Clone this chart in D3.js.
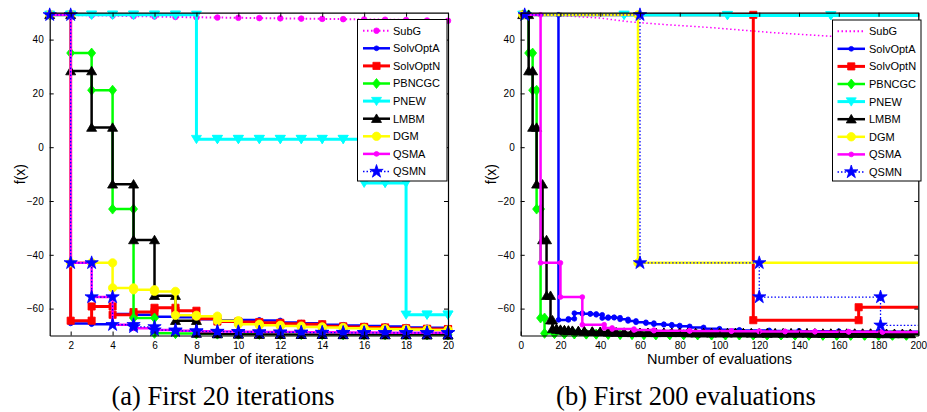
<!DOCTYPE html>
<html>
<head>
<meta charset="utf-8">
<script src="https://cdn.jsdelivr.net/npm/d3@7"></script>
<style>
  body { margin: 0; background: #fff; }
  text { font-family: "Liberation Sans", Arial, sans-serif; }
</style>
</head>
<body>
<div id="chart"></div>
<script>
// ---- data: panel (a), first 20 iterations ----
const iterations = [1, 2, 3, 4, 5, 6, 7, 8, 9, 10, 11, 12, 13, 14, 15, 16, 17, 18, 19, 20];
const subgIter     = [49.2, 49.1, 49.0, 48.9, 48.7, 48.6, 48.4, 48.3, 48.2, 48.1, 48.0, 47.9, 47.8, 47.7, 47.6, 47.5, 47.4, 47.3, 47.1, 47.0];
const solvOptAIter = [49.2, -65.5, -65.8, -62.0, -62.3, -63.0, -63.2, -64.0, -64.3, -64.2, -64.4, -65.2, -65.4, -66.0, -66.3, -66.5, -66.7, -67.0, -67.1, -67.2];
const solvOptNIter = [49.2, -64.5, -59.2, -62.3, -61.3, -59.7, -60.8, -63.8, -64.8, -65.0, -65.3, -65.6, -65.8, -66.6, -66.8, -67.0, -67.3, -67.5, -67.6, -67.7];
const pbncgcIter   = [49.2, 35.0, 21.2, -23.0, -63.5, -69.2, -69.3, -69.4, -69.5, -69.5, -69.6, -69.6, -69.6, -69.7, -69.7, -69.7, -69.7, -69.8, -69.8, -69.8];
const pnewIter     = [49.2, 49.2, 49.2, 49.2, 49.2, 49.2, 49.2, 3.0, 3.0, 3.0, 3.0, 3.0, 3.0, 3.0, 3.0, -13.3, -13.3, -62.3, -62.3, -62.3];
const lmbmIter     = [49.2, 28.3, 7.3, -13.8, -34.5, -55.2, -64.5, -69.3, -69.5, -69.6, -69.6, -69.7, -69.7, -69.7, -69.8, -69.8, -69.8, -69.8, -69.9, -69.9];
const dgmIter      = [49.2, -43.0, -43.0, -52.3, -53.0, -53.6, -62.5, -62.8, -64.5, -65.8, -66.2, -66.5, -66.8, -67.0, -67.3, -67.5, -67.7, -67.8, -68.0, -68.1];
const qsmaIter     = [49.2, -43.0, -55.7, -66.0, -67.3, -68.0, -68.2, -68.4, -68.5, -68.6, -68.7, -68.7, -68.8, -68.8, -68.9, -68.9, -69.0, -69.0, -69.0, -69.0];
const qsmnIter     = [49.2, -43.0, -55.7, -66.0, -66.8, -68.0, -68.3, -68.5, -68.6, -68.7, -68.8, -68.8, -68.9, -68.9, -69.0, -69.0, -69.0, -69.0, -69.0, -69.0];

// ---- data: panel (b), first 200 evaluations ----
const subgEvals = [1, 20, 40, 55, 65, 80, 95, 110, 125, 140, 155, 170, 185, 200];
const subgEvalF = [49.2, 48.9, 48.0, 46.6, 46.0, 45.2, 44.5, 43.6, 42.7, 42.0, 41.3, 40.6, 40.0, 39.4];
const solvOptAEvals = [1, 19, 24, 27, 31, 35, 38, 41, 44, 47, 50, 54, 58, 63, 67, 72, 76, 80, 85, 92, 100, 110, 125, 140, 160, 180];
const solvOptAEvalF = [49.2, -64.2, -63.8, -61.7, -61.9, -62.0, -62.3, -63.5, -63.2, -63.4, -64.0, -64.6, -65.1, -65.4, -65.8, -66.0, -66.3, -66.6, -67.0, -67.5, -67.9, -68.1, -68.3, -68.4, -68.5, -68.6];
const solvOptNEvals = [1, 117, 170];
const solvOptNEvalF = [49.2, -64.3, -59.5];
const pbncgcEvals = [1, 4, 6, 8, 10, 12, 17, 22, 27, 33, 38, 44, 50, 56, 62, 68, 75, 82, 89, 96, 103, 110, 117, 124, 131, 138, 145, 152, 159, 166, 173, 180, 187, 194];
const pbncgcEvalF = [49.2, 35.0, 21.2, -23.0, -63.5, -69.2, -69.3, -69.4, -69.4, -69.5, -69.5, -69.6, -69.6, -69.6, -69.7, -69.7, -69.7, -69.7,
  -69.8, -69.8, -69.8, -69.8, -69.8, -69.8, -69.8, -69.9, -69.9, -69.9, -69.9, -69.9, -69.9, -69.9, -69.9, -69.9];
const pnewEvals = [1, 52, 104, 156];
const pnewEvalF = [49.2, 49.1, 49.0, 49.0];
const lmbmEvals = [1, 4, 6, 8, 11, 13, 15, 16, 18, 20, 22, 24, 26, 29, 32, 36, 40, 44, 48, 52, 56, 60, 64, 68, 72, 76, 80,
  84, 88, 92, 96, 100, 104, 108, 112, 116, 120, 124, 128, 132, 136, 140, 144, 148, 152, 156, 160, 164, 168, 172, 176, 180, 184, 188, 192, 196];
const lmbmEvalF = [49.2, 28.3, 7.3, -13.8, -34.5, -55.2, -64.3, -67.5, -67.8, -68.0, -68.1, -68.2, -68.3, -68.4, -68.5, -68.6, -68.7, -68.8, -68.9,
  -69.0, -69.0, -69.0, -69.0, -69.0, -69.0, -69.0, -69.0,
  -69.1, -69.1, -69.1, -69.1, -69.1, -69.1, -69.1, -69.1,
  -69.2, -69.2, -69.2, -69.2, -69.2, -69.2, -69.2, -69.2,
  -69.3, -69.3, -69.3, -69.3, -69.3, -69.3, -69.3, -69.3,
  -69.4, -69.4, -69.4, -69.4, -69.4];
const dgmEvals = [1, 59];
const dgmEvalF = [49.2, -43.0];
const qsmaEvals = [1, 10, 20, 31, 42, 46, 57, 67, 85, 106, 120, 133, 148, 165, 182];
const qsmaEvalF = [49.2, -43.0, -55.7, -66.0, -67.2, -67.6, -68.0, -68.2, -68.3, -68.4, -68.5, -68.5, -68.6, -68.6, -68.7];
const qsmnEvals = [2, 60, 120, 181];
const qsmnEvalF = [49.2, -43.0, -55.7, -66.2];

// ---- tick labels ----
const yTickValues = [-60, -40, -20, 0, 20, 40];
const iterTicks = [2, 4, 6, 8, 10, 12, 14, 16, 18, 20];
const evalTicks = [0, 20, 40, 60, 80, 100, 120, 140, 160, 180, 200];
const seriesNames = ["SubG", "SolvOptA", "SolvOptN", "PBNCGC", "PNEW", "LMBM", "DGM", "QSMA", "QSMN"];

// styles for each method (MATLAB-ish)
const styles = {
  SubG:     { color: "#ff00ff", width: 2,   dash: "1.5,2.5", marker: "dot", size: 2.8, linear: true },
  SolvOptA: { color: "#0000ff", width: 2.5, marker: "dot", size: 2.4 },
  SolvOptN: { color: "#ff0000", width: 3,   marker: "square", size: 3.6 },
  PBNCGC:   { color: "#00ff00", width: 2.5, marker: "diamond", size: 4 },
  PNEW:     { color: "#00ffff", width: 3,   marker: "tridown", size: 5 },
  LMBM:     { color: "#000000", width: 2.5, marker: "triup", size: 5 },
  DGM:      { color: "#ffff00", width: 2.5, marker: "circle", size: 4.2 },
  QSMA:     { color: "#ff00ff", width: 2.5, marker: "dot", size: 2.4 },
  QSMN:     { color: "#0000ff", width: 1.3, dash: "1.5,2", marker: "star", size: 55 }
};

const W = 927, H = 412;
const plotTop = 12.7, plotBottom = 335.5;
const yDomain = [-70, 50];

const svg = d3.select("#chart").append("svg")
  .attr("width", W).attr("height", H)
  .style("background", "#fff");

function markerPath(type, s) {
  if (type === "dot" || type === "circle") return d3.symbol(d3.symbolCircle, Math.PI * s * s)();
  if (type === "square") return `M${-s},${-s}H${s}V${s}H${-s}Z`;
  if (type === "diamond") return `M0,${-s * 1.25}L${s},0L0,${s * 1.25}L${-s},0Z`;
  if (type === "tridown") return `M${-s},${-s * 0.75}L${s},${-s * 0.75}L0,${s * 0.9}Z`;
  if (type === "triup") return `M${-s},${s * 0.75}L${s},${s * 0.75}L0,${-s * 0.95}Z`;
  if (type === "star") return d3.symbol(d3.symbolStar, s)();
  return "";
}

// vertices of a staircase (both corners get a marker)
function stairs(xs, ys) {
  const pts = [];
  xs.forEach((xv, i) => {
    if (i > 0) pts.push([xv, ys[i - 1]]);
    pts.push([xv, ys[i]]);
  });
  return pts;
}

function drawPanel(p) {
  const x = d3.scaleLinear().domain(p.xDomain).range([p.left, p.right]);
  const y = d3.scaleLinear().domain(yDomain).range([plotBottom, plotTop]);
  const g = svg.append("g");

  svg.append("clipPath").attr("id", "clip-" + p.id)
    .append("rect")
    .attr("x", p.left).attr("y", plotTop - 2)
    .attr("width", p.right - p.left).attr("height", plotBottom - plotTop + 2);

  const line = d3.line().x(d => x(d[0])).y(d => y(d[1]));

  p.series.forEach(s => {
    const st = styles[s.name];
    let pts;
    if (st.linear) pts = s.x.map((xv, i) => [xv, s.y[i]]);
    else pts = stairs(s.x, s.y);
    const linePts = pts.slice();
    const last = pts[pts.length - 1];
    if (last[0] < p.xDomain[1]) linePts.push([p.xDomain[1], last[1]]);

    g.append("path")
      .attr("d", line(linePts))
      .attr("clip-path", `url(#clip-${p.id})`)
      .style("fill", "none")
      .style("stroke", st.color)
      .style("stroke-width", s.width || st.width)
      .style("stroke-dasharray", st.dash || null)
      .style("stroke-linejoin", "miter");

    if (s.noMarker) return;
    g.selectAll(null)
      .data(pts.filter(d => d[0] >= p.xDomain[0] && d[0] <= p.xDomain[1]))
      .join("path")
      .attr("transform", d => `translate(${x(d[0])},${y(d[1])})`)
      .attr("d", markerPath(st.marker, st.size))
      .style("fill", st.color)
      .style("stroke", st.color)
      .style("stroke-width", 0.8);
  });

  // box with inward ticks on all four sides
  const axes = svg.append("g").style("font-size", "11.5px");
  axes.append("g")
    .attr("transform", `translate(0,${plotBottom})`)
    .call(d3.axisBottom(x).tickValues(p.ticks).tickSizeInner(-4).tickSizeOuter(0).tickPadding(6).tickFormat(d3.format("d")));
  axes.append("g")
    .attr("transform", `translate(0,${plotTop})`)
    .call(d3.axisTop(x).tickValues(p.ticks).tickSizeInner(-4).tickSizeOuter(0).tickFormat(""));
  axes.append("g")
    .attr("transform", `translate(${p.left},0)`)
    .call(d3.axisLeft(y).tickValues(yTickValues).tickSizeInner(-4).tickSizeOuter(0).tickPadding(6).tickFormat(d3.format("d")));
  axes.append("g")
    .attr("transform", `translate(${p.right},0)`)
    .call(d3.axisRight(y).tickValues(yTickValues).tickSizeInner(-4).tickSizeOuter(0).tickFormat(""));
  axes.selectAll("text").attr("font-family", null).style("fill", "#000");
  axes.selectAll("path, line").style("stroke", "#000").style("stroke-width", 1);
  axes.selectAll(".domain").style("stroke-width", 1.2);

  // legend
  const lg = svg.append("g");
  lg.append("rect")
    .attr("x", p.legend.x).attr("y", p.legend.y)
    .attr("width", p.legend.w).attr("height", p.legend.h)
    .style("fill", "#fff").style("stroke", "#000").style("stroke-width", 1);
  seriesNames.forEach((name, i) => {
    const st = styles[name];
    const ly = p.legend.y + 11.2 + i * 17.6;
    lg.append("line")
      .attr("x1", p.legend.lx1).attr("x2", p.legend.lx2)
      .attr("y1", ly).attr("y2", ly)
      .style("stroke", st.color)
      .style("stroke-width", st.width)
      .style("stroke-dasharray", st.dash || null);
    if (!(name === "SubG" && p.noSubgMarker)) {
      lg.append("path")
        .attr("transform", `translate(${(p.legend.lx1 + p.legend.lx2) / 2},${ly})`)
        .attr("d", markerPath(st.marker, st.size))
        .style("fill", st.color).style("stroke", st.color).style("stroke-width", 0.8);
    }
    lg.append("text")
      .attr("x", p.legend.tx).attr("y", ly).attr("dy", "0.36em")
      .style("font-size", "11px")
      .text(name);
  });

  // labels
  svg.append("text")
    .attr("x", (p.left + p.right) / 2).attr("y", 363.5)
    .attr("text-anchor", "middle")
    .style("font-size", "14.5px")
    .text(p.xLabel);
  svg.append("text")
    .attr("transform", `translate(${p.left - 25},${(plotTop + plotBottom) / 2}) rotate(-90)`)
    .attr("text-anchor", "middle")
    .style("font-size", "14px")
    .text("f(x)");
  svg.append("text")
    .attr("x", p.captionX).attr("y", 405)
    .attr("text-anchor", "middle")
    .style("font-family", "'Liberation Serif', 'Times New Roman', serif")
    .style("font-size", "26.5px")
    .text(p.caption);
}

drawPanel({
  id: "iter",
  xDomain: [1, 20], left: 49.7, right: 448,
  ticks: iterTicks,
  xLabel: "Number of iterations",
  caption: "(a)  First 20 iterations", captionX: 223,
  legend: { x: 357.5, y: 19.5, w: 89.5, h: 161.5, lx1: 363, lx2: 390, tx: 393 },
  series: [
    { name: "SubG", x: iterations, y: subgIter },
    { name: "SolvOptA", x: iterations, y: solvOptAIter },
    { name: "SolvOptN", x: iterations, y: solvOptNIter },
    { name: "PBNCGC", x: iterations, y: pbncgcIter },
    { name: "PNEW", x: iterations, y: pnewIter },
    { name: "LMBM", x: iterations, y: lmbmIter },
    { name: "DGM", x: iterations, y: dgmIter },
    { name: "QSMA", x: iterations, y: qsmaIter },
    { name: "QSMN", x: iterations, y: qsmnIter }
  ]
});

drawPanel({
  id: "eval",
  xDomain: [0, 200], left: 520.7, right: 918.3,
  ticks: evalTicks,
  xLabel: "Number of evaluations",
  caption: "(b)  First 200 evaluations", captionX: 686,
  noSubgMarker: true,
  legend: { x: 832.5, y: 20, w: 88.5, h: 161, lx1: 837.5, lx2: 865, tx: 869 },
  series: [
    { name: "SubG", x: subgEvals, y: subgEvalF, noMarker: true, width: 1.5 },
    { name: "SolvOptA", x: solvOptAEvals, y: solvOptAEvalF },
    { name: "SolvOptN", x: solvOptNEvals, y: solvOptNEvalF },
    { name: "PBNCGC", x: pbncgcEvals, y: pbncgcEvalF },
    { name: "PNEW", x: pnewEvals, y: pnewEvalF },
    { name: "LMBM", x: lmbmEvals, y: lmbmEvalF },
    { name: "DGM", x: dgmEvals, y: dgmEvalF },
    { name: "QSMA", x: qsmaEvals, y: qsmaEvalF },
    { name: "QSMN", x: qsmnEvals, y: qsmnEvalF }
  ]
});
</script>
</body>
</html>
